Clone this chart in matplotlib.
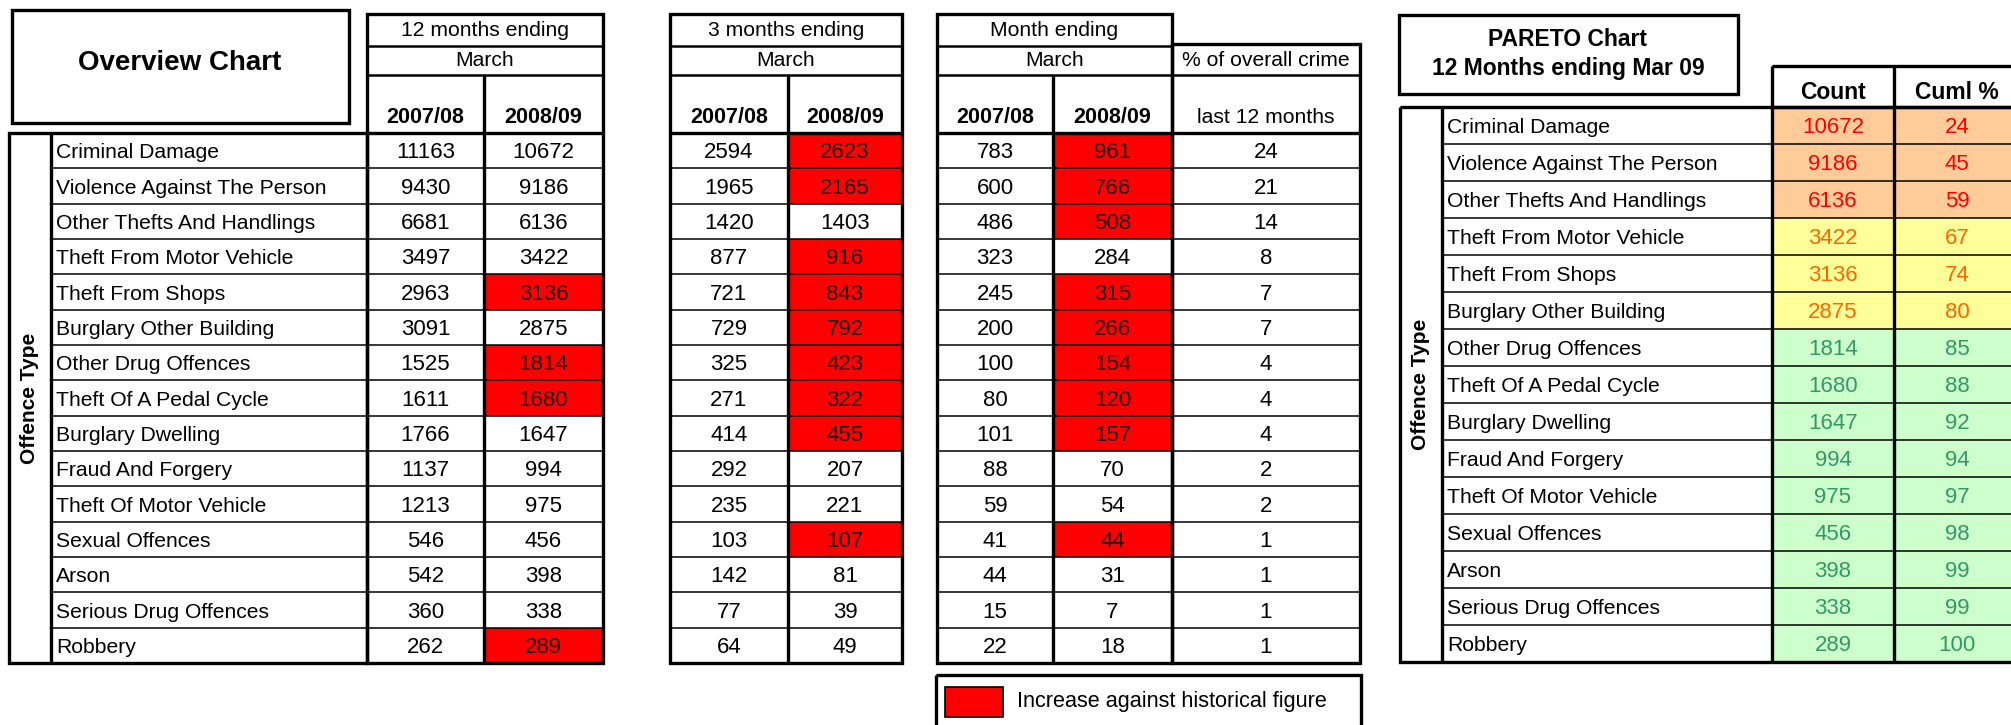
import matplotlib.pyplot as plt
from matplotlib.patches import Rectangle

plt.rcParams['font.family'] = ['Liberation Sans', 'DejaVu Sans']

categories = [
    "Criminal Damage", "Violence Against The Person", "Other Thefts And Handlings",
    "Theft From Motor Vehicle", "Theft From Shops", "Burglary Other Building",
    "Other Drug Offences", "Theft Of A Pedal Cycle", "Burglary Dwelling",
    "Fraud And Forgery", "Theft Of Motor Vehicle", "Sexual Offences", "Arson",
    "Serious Drug Offences", "Robbery",
]
months12_0708 = [11163, 9430, 6681, 3497, 2963, 3091, 1525, 1611, 1766, 1137, 1213, 546, 542, 360, 262]
months12_0809 = [10672, 9186, 6136, 3422, 3136, 2875, 1814, 1680, 1647, 994, 975, 456, 398, 338, 289]
months3_0708 = [2594, 1965, 1420, 877, 721, 729, 325, 271, 414, 292, 235, 103, 142, 77, 64]
months3_0809 = [2623, 2165, 1403, 916, 843, 792, 423, 322, 455, 207, 221, 107, 81, 39, 49]
month_0708 = [783, 600, 486, 323, 245, 200, 100, 80, 101, 88, 59, 41, 44, 15, 22]
month_0809 = [961, 766, 508, 284, 315, 266, 154, 120, 157, 70, 54, 44, 31, 7, 18]
pct_overall = [24, 21, 14, 8, 7, 7, 4, 4, 4, 2, 2, 1, 1, 1, 1]

pareto_count = [10672, 9186, 6136, 3422, 3136, 2875, 1814, 1680, 1647, 994, 975, 456, 398, 338, 289]
pareto_cuml = [24, 45, 59, 67, 74, 80, 85, 88, 92, 94, 97, 98, 99, 99, 100]

RED = "#ff0000"
THICK, MID, THIN = 2.4, 1.8, 1.1
NUM = 16
LBL = 15.2

fig = plt.figure(figsize=(20.11, 7.25), dpi=100)
ax = fig.add_axes([0, 0, 1, 1])
ax.set_xlim(0, 2011)
ax.set_ylim(725, 0)
ax.axis("off")


def box(x0, y0, x1, y1, lw=THICK, fc="none", z=3):
    ax.add_patch(Rectangle((x0, y0), x1 - x0, y1 - y0, facecolor=fc,
                           edgecolor="black" if lw else "none", linewidth=lw, zorder=z))


def hline(y, x0, x1, lw=THIN):
    ax.plot([x0, x1], [y, y], color="black", lw=lw, zorder=4, solid_capstyle="butt")


def vline(x, y0, y1, lw=THICK):
    ax.plot([x, x], [y0, y1], color="black", lw=lw, zorder=4, solid_capstyle="butt")


def txt(x, y, s, size=LBL, weight="normal", color="black", ha="center", **kw):
    ax.text(x, y, s, fontsize=size, fontweight=weight, color=color, ha=ha, va="center", zorder=5, **kw)


# ---------------- Overview table ----------------
n = len(categories)
top, bot = 133, 663
rh = (bot - top) / n

box(12, 10, 349, 123)
txt(180, 63, "Overview Chart", size=20, weight="bold")

# category column
box(9, top, 367, bot)
vline(51, top, bot)
txt(30, (top + bot) / 2, "Offence Type", size=15, weight="bold", rotation=90)
for i, c in enumerate(categories):
    y = top + i * rh
    if i:
        hline(y, 51, 367)
    txt(56, y + rh / 2 + 2, c, ha="left")

blocks = [
    (367, 484, 603, "12 months ending", months12_0708, months12_0809),
    (670, 788, 902, "3 months ending", months3_0708, months3_0809),
    (937, 1053, 1172, "Month ending", month_0708, month_0809),
]
for xl, xm, xr, head, prev, curr in blocks:
    box(xl, 14, xr, bot)
    hline(46, xl, xr, MID)
    hline(75, xl, xr, MID)
    hline(top, xl, xr, THICK)
    vline(xm, 75, bot)
    txt((xl + xr) / 2, 30, head)
    txt((xl + xr) / 2, 60, "March")
    txt((xl + xm) / 2, 117, "2007/08", size=15.5, weight="bold")
    txt((xm + xr) / 2, 117, "2008/09", size=15.5, weight="bold")
    for i in range(n):
        y = top + i * rh
        if i:
            hline(y, xl, xr)
        up = curr[i] > prev[i]
        if up:
            box(xm, y, xr, y + rh, lw=0, fc=RED, z=2)
        txt((xl + xm) / 2, y + rh / 2 + 2, str(prev[i]), size=NUM)
        txt((xm + xr) / 2, y + rh / 2 + 2, str(curr[i]), size=NUM,
            color="#220000" if up else "black")

# % of overall crime column
box(1172, 44, 1360, bot)
hline(75, 1172, 1360, MID)
hline(top, 1172, 1360, THICK)
txt(1266, 60, "% of overall crime")
txt(1266, 117, "last 12 months")
for i, p in enumerate(pct_overall):
    y = top + i * rh
    if i:
        hline(y, 1172, 1360)
    txt(1266, y + rh / 2 + 2, str(p), size=NUM)

# legend
box(936, 675, 1361, 740)
box(945, 687, 1003, 717, lw=1.2, fc=RED)
txt(1017, 702, "Increase against historical figure", size=15.6, ha="left")

# ---------------- Pareto table ----------------
box(1399, 15, 1738, 94)
txt(1568, 39, "PARETO Chart", size=16.5, weight="bold")
txt(1568, 68, "12 Months ending Mar 09", size=16.5, weight="bold")

ptop, pbot = 107, 662
prh = (pbot - ptop) / n
box(1772, 66, 2030, ptop)
vline(1894, 66, ptop)
txt(1833, 92, "Count", size=16.5, weight="bold")
txt(1957, 92, "Cuml %", size=16.5, weight="bold")

band_fill = {"high": "#ffcc99", "mid": "#ffff99", "low": "#ccffcc"}
band_text = {"high": "#ff0000", "mid": "#ff6600", "low": "#339966"}

box(1400, ptop, 2030, pbot)
vline(1442, ptop, pbot)
vline(1772, ptop, pbot)
vline(1894, ptop, pbot)
txt(1421, (ptop + pbot) / 2, "Offence Type", size=15, weight="bold", rotation=90)
for i, c in enumerate(categories):
    y = ptop + i * prh
    band = "high" if pareto_cuml[i] <= 60 else ("mid" if pareto_cuml[i] <= 80 else "low")
    box(1772, y, 2030, y + prh, lw=0, fc=band_fill[band], z=2)
    if i:
        hline(y, 1442, 2030)
    txt(1447, y + prh / 2 + 2, c, ha="left")
    txt(1833, y + prh / 2 + 2, str(pareto_count[i]), size=NUM, color=band_text[band])
    txt(1957, y + prh / 2 + 2, str(pareto_cuml[i]), size=NUM, color=band_text[band])

fig.savefig("out.png", dpi=100, facecolor="white")
